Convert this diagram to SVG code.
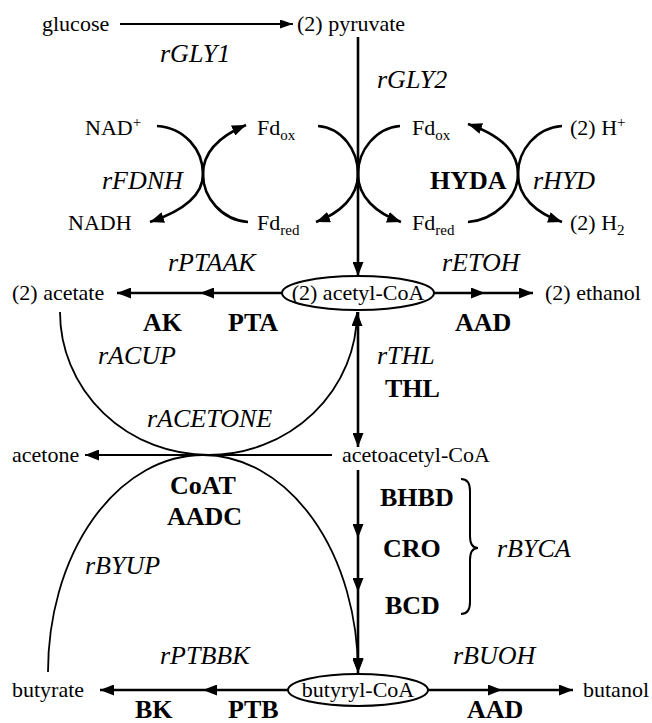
<svg xmlns="http://www.w3.org/2000/svg" width="652" height="723" viewBox="0 0 652 723">
<defs>
<marker id="ah" markerUnits="userSpaceOnUse" markerWidth="14" markerHeight="11" refX="14" refY="5.5" orient="auto"><path d="M0,0 L14,5.5 L0,11 z" fill="#000"/></marker>
<marker id="ahs" markerUnits="userSpaceOnUse" markerWidth="13" markerHeight="9" refX="13" refY="4.5" orient="auto"><path d="M0,0 L13,4.5 L0,9 z" fill="#000"/></marker>
</defs>
<style>
text{font-family:"Liberation Serif","Times New Roman",serif;fill:#000}
.r{font-size:22px}
.i{font-size:26px;font-style:italic}
.b{font-size:26px;font-weight:bold}
.s{font-size:15px}
.c{fill:none;stroke:#000;stroke-width:2.6}
.t{fill:none;stroke:#000;stroke-width:1.8}
.e{fill:#fff;stroke:#000;stroke-width:2}
</style>
<g id="connectors">
<line x1="120" y1="24" x2="293" y2="24" stroke="#000" stroke-width="1.8" marker-end="url(#ahs)"/>
<line x1="358" y1="37" x2="358" y2="276" class="c" marker-end="url(#ah)"/>
<path d="M157,126 C185,128 203,150 203,174 C203,197 180,212 150,222" class="c" marker-end="url(#ah)"/>
<path d="M248,222 C222,220 203,198 203,174 C203,151 220,136 246,125" class="c" marker-end="url(#ah)"/>
<path d="M318,126 C342,128 358,150 358,174 C358,197 340,213 316,222" class="c" marker-end="url(#ah)"/>
<path d="M400,126 C376,128 358,150 358,174 C358,197 376,213 401,222" class="c" marker-end="url(#ah)"/>
<path d="M468,222 C494,220 518,198 518,174 C518,151 500,135 468,124" class="c" marker-end="url(#ah)"/>
<path d="M562,126 C536,128 518,150 518,174 C518,197 536,213 562,222" class="c" marker-end="url(#ah)"/>
<line x1="282" y1="293" x2="200" y2="293" class="c" marker-end="url(#ah)"/>
<line x1="200" y1="293" x2="117" y2="293" class="c" marker-end="url(#ah)"/>
<line x1="434" y1="293" x2="485" y2="293" class="c" marker-end="url(#ah)"/>
<line x1="485" y1="293" x2="533" y2="293" class="c" marker-end="url(#ah)"/>
<line x1="358" y1="312" x2="358" y2="447" class="c" marker-end="url(#ah)"/>
<path d="M60,312 A148.5,143 0 0 0 357,312" class="t" marker-end="url(#ah)"/>
<line x1="332" y1="455" x2="85" y2="455" stroke="#000" stroke-width="2" marker-end="url(#ah)"/>
<path d="M48,672 A155,217 0 0 1 358,672" class="t" marker-end="url(#ah)"/>
<line x1="358" y1="470" x2="358" y2="538" class="c" marker-end="url(#ah)"/>
<line x1="358" y1="538" x2="358" y2="592" class="c" marker-end="url(#ah)"/>
<line x1="358" y1="592" x2="358" y2="673" class="c" marker-end="url(#ah)"/>
<path d="M461,479 Q470,479 470,491 L470,536 Q470,548 478,548 Q470,548 470,560 L470,602 Q470,614 461,614" fill="none" stroke="#000" stroke-width="2"/>
<line x1="288" y1="690" x2="203" y2="690" class="c" marker-end="url(#ah)"/>
<line x1="203" y1="690" x2="100" y2="690" class="c" marker-end="url(#ah)"/>
<line x1="428" y1="690" x2="502" y2="690" class="c" marker-end="url(#ah)"/>
<line x1="502" y1="690" x2="573" y2="690" class="c" marker-end="url(#ah)"/>
</g>
<g id="glucose"><text class="r" x="42" y="31">glucose</text></g>
<g id="pyruvate"><text class="r" x="297" y="31">(2) pyruvate</text></g>
<g id="label-rGLY1"><text class="i" x="160" y="62">rGLY1</text></g>
<g id="label-rGLY2"><text class="i" x="377" y="88">rGLY2</text></g>
<g id="nadp"><text class="r" x="85" y="135">NAD<tspan class="s" dy="-8">+</tspan></text></g>
<g id="nadh"><text class="r" x="68" y="230">NADH</text></g>
<g id="fdox1"><text class="r" x="257" y="135">Fd<tspan class="s" dy="5">ox</tspan></text></g>
<g id="fdred1"><text class="r" x="257" y="230">Fd<tspan class="s" dy="5">red</tspan></text></g>
<g id="fdox2"><text class="r" x="412" y="135">Fd<tspan class="s" dy="5">ox</tspan></text></g>
<g id="fdred2"><text class="r" x="412" y="230">Fd<tspan class="s" dy="5">red</tspan></text></g>
<g id="hplus"><text class="r" x="570" y="135">(2) H<tspan class="s" dy="-8">+</tspan></text></g>
<g id="h2"><text class="r" x="570" y="230">(2) H<tspan class="s" dy="5">2</tspan></text></g>
<g id="label-rFDNH"><text class="i" x="102" y="189">rFDNH</text></g>
<g id="label-HYDA"><text class="b" x="430" y="189">HYDA</text></g>
<g id="label-rHYD"><text class="i" x="533" y="189">rHYD</text></g>
<g id="acetylcoa"><ellipse class="e" cx="358" cy="293" rx="76" ry="17"/><text class="r" x="358" y="300" text-anchor="middle">(2) acetyl-CoA</text></g>
<g id="acetate"><text class="r" x="12" y="300">(2) acetate</text></g>
<g id="ethanol"><text class="r" x="545" y="300">(2) ethanol</text></g>
<g id="label-rPTAAK"><text class="i" x="168" y="271">rPTAAK</text></g>
<g id="label-AK"><text class="b" x="143" y="331">AK</text></g>
<g id="label-PTA"><text class="b" x="228" y="331">PTA</text></g>
<g id="label-rETOH"><text class="i" x="442" y="271">rETOH</text></g>
<g id="label-AAD1"><text class="b" x="455" y="331">AAD</text></g>
<g id="label-rACUP"><text class="i" x="98" y="364">rACUP</text></g>
<g id="label-rTHL"><text class="i" x="377" y="364">rTHL</text></g>
<g id="label-THL"><text class="b" x="385" y="397">THL</text></g>
<g id="label-rACETONE"><text class="i" x="147" y="427">rACETONE</text></g>
<g id="acetone"><text class="r" x="12" y="462">acetone</text></g>
<g id="acetoacetylcoa"><text class="r" x="342" y="462">acetoacetyl-CoA</text></g>
<g id="label-CoAT"><text class="b" x="170" y="494">CoAT</text></g>
<g id="label-AADC"><text class="b" x="167" y="525">AADC</text></g>
<g id="label-BHBD"><text class="b" x="380" y="506">BHBD</text></g>
<g id="label-CRO"><text class="b" x="383" y="557">CRO</text></g>
<g id="label-BCD"><text class="b" x="385" y="614">BCD</text></g>
<g id="label-rBYCA"><text class="i" x="497" y="557">rBYCA</text></g>
<g id="label-rBYUP"><text class="i" x="85" y="574">rBYUP</text></g>
<g id="label-rPTBBK"><text class="i" x="160" y="664">rPTBBK</text></g>
<g id="label-rBUOH"><text class="i" x="453" y="664">rBUOH</text></g>
<g id="butyrylcoa"><ellipse class="e" cx="358" cy="690" rx="70" ry="16"/><text class="r" x="358" y="697" text-anchor="middle">butyryl-CoA</text></g>
<g id="butyrate"><text class="r" x="12" y="697">butyrate</text></g>
<g id="butanol"><text class="r" x="583" y="697">butanol</text></g>
<g id="label-BK"><text class="b" x="135" y="718">BK</text></g>
<g id="label-PTB"><text class="b" x="228" y="718">PTB</text></g>
<g id="label-AAD2"><text class="b" x="467" y="718">AAD</text></g>
</svg>
